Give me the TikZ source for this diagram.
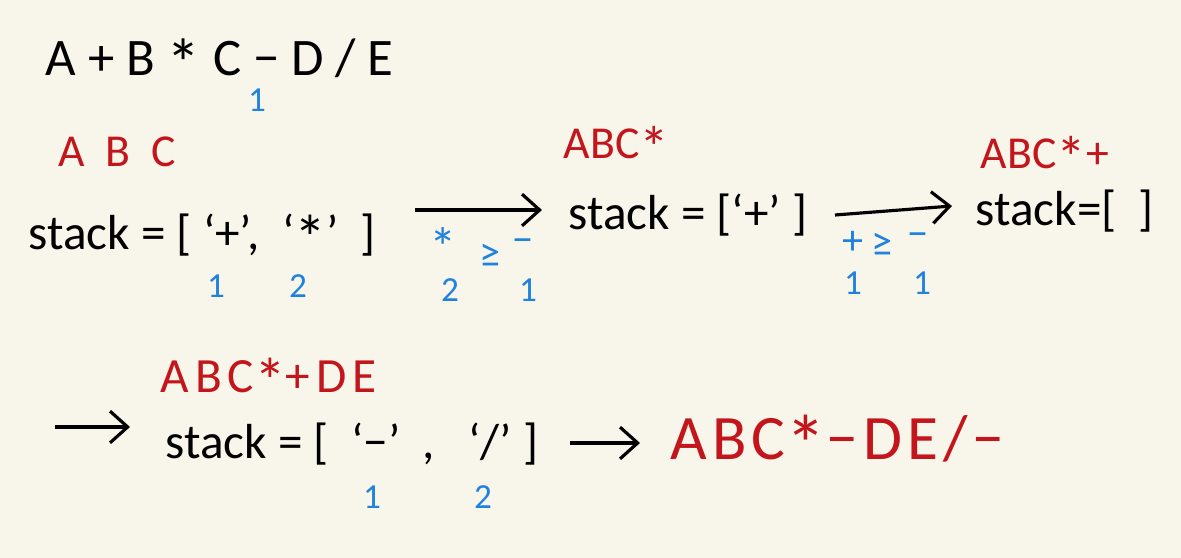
\documentclass[tikz,border=0pt]{standalone}
\usepackage{fontspec}
\usepackage{graphicx}
\setmainfont{Carlito}
\usetikzlibrary{arrows.meta, positioning, calc}
\definecolor{paper}{HTML}{F8F5EA}
\definecolor{inkred}{HTML}{C3161C}
\definecolor{inkblue}{HTML}{1F82DE}
\newcommand{\lowstar}{\raisebox{-0.22em}{\scalebox{1.3}{*}}}

\begin{document}
\begin{tikzpicture}[
    x=0.01cm, y=-0.01cm,
    >={Straight Barb[length=5pt, width=9pt, line width=0.9pt]},
    expr/.style={anchor=west, inner sep=0pt, text depth=0pt, font=\fontsize{15}{17}\selectfont},
    postfix/.style={anchor=west, inner sep=0pt, text depth=0pt, text=inkred, font=\fontsize{13}{15}\selectfont},
    stackline/.style={anchor=west, inner sep=0pt, text depth=0pt, font=\fontsize{14}{16}\selectfont},
    idx/.style={inner sep=0pt, text=inkblue, font=\fontsize{10}{12}\selectfont},
    cmp/.style={inner sep=0pt, text=inkblue, font=\fontsize{12}{14}\selectfont},
    arrow/.style={->, line width=0.9pt, black}
  ]
    \fill[paper] (0,0) rectangle (1181,558);
    \useasboundingbox (0,0) rectangle (1181,558);

    % infix expression
    \node[expr] (infix) at (45,57) {A + B \lowstar\ C − D / E};
    \node[idx] (opidx) at (257,100) {1};

    % first step
    \node[postfix] (out1) at (58,152) {A \ B \ C};
    \node[stackline] (stack1) at (28,232) {stack = [ ‘+’, \ ‘\lowstar’ \ ]};
    \node[idx] (s1i1) at (216,286) {1};
    \node[idx] (s1i2) at (298,286) {2};
    \coordinate (a1s) at (415,210);
    \coordinate (a1e) at (542,210);
    \node[cmp] (c1a) at (443,247) {\lowstar};
    \node[cmp] (c1b) at (490,256) {≥};
    \node[cmp] (c1c) at (523,246) {−};
    \node[idx] (c1d) at (450,290) {2};
    \node[idx] (c1e) at (528,290) {1};

    % second step
    \node[postfix] (out2) at (563,142) {ABC\lowstar};
    \node[stackline] (stack2) at (568,212) {stack = [‘+’ ]};
    \coordinate (a2s) at (835,215);
    \coordinate (a2e) at (952,206);
    \node[cmp] (c2a) at (853,243) {+};
    \node[cmp] (c2b) at (882,245) {≥};
    \node[cmp] (c2c) at (918,240) {−};
    \node[idx] (c2d) at (853,283) {1};
    \node[idx] (c2e) at (922,283) {1};

    % third step
    \node[postfix] (out3) at (980,152) {ABC\lowstar+};
    \node[stackline] (stack3) at (975,208) {stack=[ \ ]};

    % last row
    \coordinate (a3s) at (55,427);
    \coordinate (a3e) at (130,427);
    \node[postfix, font=\fontsize{14}{16}\selectfont\addfontfeature{LetterSpace=12}] (out4) at (160,375) {ABC\lowstar+DE};
    \node[stackline] (stack4) at (165,441) {stack = [ \ ‘−’ \ , \ \ ‘/’ ]};
    \node[idx] (s4i1) at (372,497) {1};
    \node[idx] (s4i2) at (483,497) {2};
    \coordinate (a4s) at (570,443);
    \coordinate (a4e) at (640,443);
    \node[postfix, font=\fontsize{18}{20}\selectfont\addfontfeature{LetterSpace=8}] (result) at (670,437) {ABC\lowstar−DE/−};

    \draw[arrow] (a1s) -- (a1e);
    \draw[arrow] (a2s) -- (a2e);
    \draw[arrow] (a3s) -- (a3e);
    \draw[arrow] (a4s) -- (a4e);
  \end{tikzpicture}
\end{document}
